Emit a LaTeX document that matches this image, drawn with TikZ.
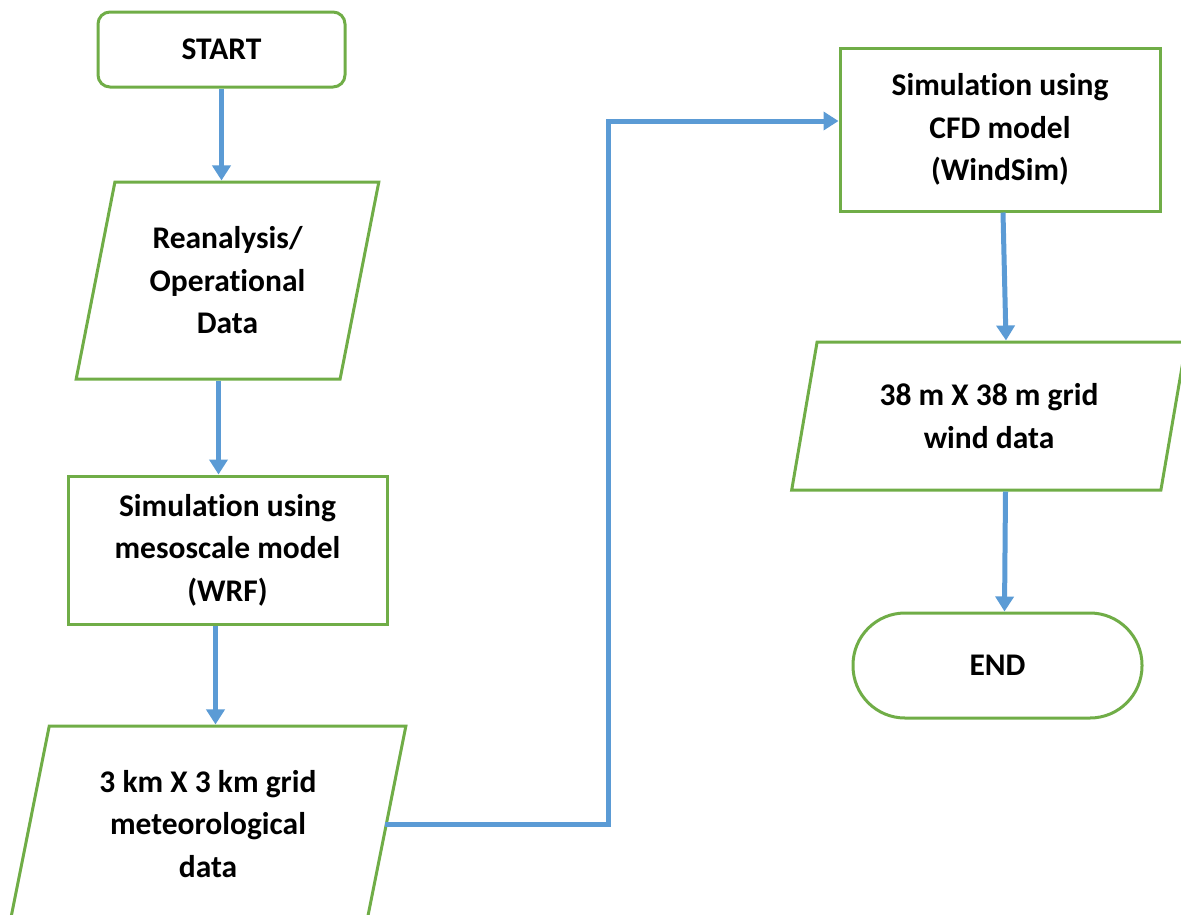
\documentclass[tikz,border=0pt]{standalone}
\usepackage{fontspec}
\setmainfont[Ligatures=NoCommon]{Carlito}
\usetikzlibrary{shapes.geometric,arrows.meta}
\definecolor{boxgreen}{HTML}{70AD47}
\definecolor{flowblue}{HTML}{5B9BD5}
\tikzset{chart/.style={draw=boxgreen,line width=3pt,align=center,inner sep=0pt,font=\fontsize{31.5}{42.5}\selectfont\bfseries}}
\tikzset{term/.style={chart,rectangle,rounded corners=12pt}}
\tikzset{proc/.style={chart,rectangle}}
\tikzset{iodata/.style={chart,trapezium,trapezium left angle=76,trapezium right angle=104,trapezium stretches=true}}
\tikzset{flow/.style={draw=flowblue,line width=5pt,-{Triangle[length=15pt,width=18pt]}}}

\begin{document}
\begin{tikzpicture}[x=1pt,y=-1pt]
    \clip (0,0) rectangle (1181,914);
    % left column
    \node[term,minimum width=247pt,minimum height=75pt]   (nstart) at (221.5,49.5) {START};
    \node[iodata,minimum width=303pt,minimum height=197pt] (nreana) at (227.5,280.5) {Reanalysis/\\Operational\\Data};
    \node[proc,minimum width=319pt,minimum height=148pt]  (nwrf)   at (227.5,550) {Simulation using\\mesoscale model\\(WRF)};
    \node[iodata,minimum width=396pt,minimum height=196pt] (ngrid3) at (208,824) {3 km X 3 km grid\\meteorological\\data};
    % right column
    \node[proc,minimum width=320pt,minimum height=163pt]  (ncfd)   at (1000,129.5) {Simulation using\\CFD model\\(WindSim)};
    \node[iodata,minimum width=396pt,minimum height=148pt] (ngrid38) at (989,416) {38 m X 38 m grid\\wind data};
    \node[term,rounded corners=52pt,minimum width=289pt,minimum height=105pt] (nend) at (997.5,665.5) {END};
    % connectors
    \draw[flow] (nstart.south) -- (nstart.south |- nreana.north);
    \draw[flow] ([xshift=-9pt]nwrf.north |- nreana.south) -- ([xshift=-9pt]nwrf.north);
    \draw[flow] ([xshift=-12pt]nwrf.south) -- ([xshift=-12pt]nwrf.south |- ngrid3.north);
    \draw[flow] ([xshift=-3pt]ngrid3.east) -- ++(223.5,0) |- ([yshift=8.5pt]ncfd.west);
    \draw[flow] ([xshift=3pt]ncfd.south) -- ([xshift=6pt]ncfd.south |- ngrid38.north);
    \draw[flow] ([xshift=8pt]nend.north |- ngrid38.south) -- ([xshift=7pt]nend.north);
\end{tikzpicture}
\end{document}
